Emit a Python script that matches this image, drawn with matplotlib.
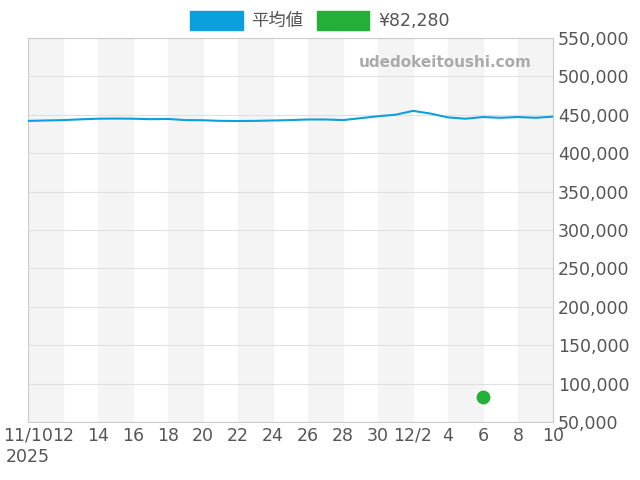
import matplotlib.pyplot as plt
import pandas as pd

plt.rcParams['font.family'] = ['DejaVu Sans', 'Noto Sans CJK JP']

dates = pd.date_range("2025-11-10", "2025-12-10", freq="D")
avg = [442000, 442500, 443000, 444000, 444800, 445000, 444800, 444200, 444500, 443000,
       442800, 442000, 441800, 442000, 442500, 443000, 443800, 443800, 443000, 445500,
       448000, 450000, 455000, 451500, 446500, 444800, 447000, 446000, 447000, 446000,
       447500]
dot_date = pd.Timestamp("2025-12-06")
dot_val = 82280

fig, ax = plt.subplots(figsize=(6.4, 4.8), dpi=100)
fig.subplots_adjust(left=0.044, right=0.864, top=0.921, bottom=0.121)

for i in range(0, 30, 4):
    ax.axvspan(dates[i], dates[min(i + 2, 30)], color='#f4f4f4', zorder=0)

ax.plot(dates, avg, color='#0aa0e0', lw=1.5, zorder=3)
ax.scatter([dot_date], [dot_val], color='#22b03a', s=80, zorder=4)

ax.set_xlim(dates[0], dates[-1])
ax.set_ylim(50000, 550000)
ax.yaxis.tick_right()
ax.set_yticks(range(50000, 550001, 50000))
ax.yaxis.set_major_formatter(plt.FuncFormatter(lambda v, p: f"{int(v):,}"))
ax.grid(axis='y', color='#e0e0e0', lw=0.8)
ax.set_axisbelow(True)

ticks = dates[::2]
labels = []
for d in ticks:
    if d == dates[0]:
        labels.append("11/10\n2025")
    elif d.day == 2 and d.month == 12:
        labels.append("12/2")
    else:
        labels.append(str(d.day))
ax.set_xticks(ticks)
ax.set_xticklabels(labels)
ax.tick_params(labelsize=12.5, colors='#555555', length=0)
for s in ax.spines.values():
    s.set_color('#cccccc')

ax.text(0.96, 0.935, 'udedokeitoushi.com', transform=ax.transAxes, ha='right',
        va='center', fontsize=11, fontweight='bold', color='#aaaaaa')

handles = [plt.Rectangle((0, 0), 1, 1, color='#0aa0e0'),
           plt.Rectangle((0, 0), 1, 1, color='#22b03a')]
fig.legend(handles, ['平均値', '¥82,280'], loc='upper center', ncol=2,
           bbox_to_anchor=(0.5, 1.01), frameon=False, fontsize=12.5,
           handlelength=3, handleheight=1.3, handletextpad=0.5, columnspacing=0.8,
           labelcolor='#555555')

fig.savefig('out.png')
